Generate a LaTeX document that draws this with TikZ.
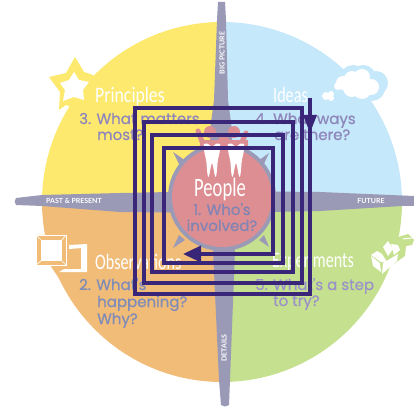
\documentclass[tikz,border=0pt]{standalone}
\usepackage{fontspec}
\usetikzlibrary{arrows.meta}
\newfontfamily\qfont{Poppins}[FakeBold=0.7]
\newfontfamily\hfont{Carlito}
\newfontfamily\lfont{Lato}
\definecolor{cyel}{HTML}{FDE96E}
\definecolor{cblu}{HTML}{C5E8FA}
\definecolor{cora}{HTML}{F0BC78}
\definecolor{cgrn}{HTML}{C5E08E}
\definecolor{cpnk}{HTML}{DD8E92}
\definecolor{cgry}{HTML}{9A9AB6}
\definecolor{cline}{HTML}{3A2678}
\definecolor{qyel}{HTML}{8F86BC}
\definecolor{qora}{HTML}{7F8CB8}
\definecolor{qpnk}{HTML}{8284B4}
\definecolor{qgrn}{HTML}{9A92C8}
\tikzset{
 quest/.style={anchor=base west,inner sep=0pt,font=\qfont\fontsize{15}{16}\selectfont},
 hand/.style={anchor=base west,inner sep=0pt,text=white,xscale=.95,yscale=1.3,transform shape,font=\hfont\fontsize{17}{20}\selectfont},
 tag/.style={inner sep=0pt,text=white,font=\lfont\bfseries\fontsize{7}{8}\selectfont},
 spiral/.style={draw=cline,line width=3.4pt,line join=miter},
 gray shape/.style={fill=cgry,draw=none},
 tooth/.style={fill=white,draw=none},
 person/.style={draw=cpnk,line width=5pt,line cap=round,line join=round},
}
\begin{document}
\begin{tikzpicture}[x=1pt,y=-1pt]
\useasboundingbox (0,0) rectangle (414,411);
% quadrants
\begin{scope}
\clip (222,202) circle[radius=180pt];
\fill[cyel] (42,22) rectangle (222,202);
\fill[cblu] (222,22) rectangle (402,202);
\fill[cgrn] (222,202) rectangle (402,382);
\fill[cora] (42,202) rectangle (222,382);
\end{scope}
% cross
\fill[gray shape] (218,2) -- (225,2) -- (226,20) -- (228,100) -- (232,130) -- (235,250) -- (230,380) -- (229,405) to[bend left=40] (221,405) -- (219,380) -- (213,250) -- (210,130) -- (214,100) -- (217,20) -- cycle;
\fill[gray shape] (414,196) -- (320,192) -- (222,191) -- (120,193) -- (42,195) -- (16,198) to[bend right=40] (16,205) -- (42,206) -- (120,212) -- (222,213) -- (320,211) -- (402,206) -- (414,206) -- cycle;
% star
\fill[cyel] (75,57) -- (84,72) -- (93,75) -- (100,90) -- (80,110) -- (66,105) -- (59,110) -- (60,92) -- (49,77) -- (66,73) -- cycle;
\fill[white] (74,72) -- (79,80) -- (89,82) -- (83,90) -- (84,100) -- (74,97) -- (63,101) -- (65,90) -- (60,83) -- (69,80) -- cycle;
% cloud
\foreach \a/\b/\rr in {343/82/12,353/78/13,363/78/13,372/88/13,353/88/14,362/90/13,376/83/12}{\fill[cblu] (\a,\b) circle[radius=\rr pt];}
\foreach \a/\b/\rr in {343/83/7,352/79/8,362/77/8,371/87/8,352/88/9,362/90/9,338/86/4}{\fill[white] (\a,\b) circle[radius=\rr pt];}
\foreach \a/\b/\rr in {326/96/4,331/94/3,331/98/3}{\fill[white] (\a,\b) circle[radius=\rr pt];}
% observations icon
\fill[cora] (36,235) -- (67,235) -- (90,243) -- (95,272) -- (60,280) -- (50,265) -- (36,265) -- cycle;
\draw[white,line width=.7pt] (36,235) rectangle (66,265);
\fill[white] (41,240) rectangle (62,261);
\draw[white,line width=.7pt] (36,235) -- (41,240) (66,235) -- (62,240) (36,265) -- (41,261) (66,265) -- (62,261);
\fill[white] (69,245) -- (87,244) -- (82,248) -- (69,249) -- cycle;
\fill[white] (87,244) -- (87,272) -- (81,269) -- (81,248) -- cycle;
\fill[white] (87,272) -- (59,272) -- (64,269) -- (81,269) -- cycle;
% experiments icon
\fill[cgrn] (385,232) -- (398,237) -- (408,234) -- (414,240) -- (412,245) -- (406,246) -- (405,256) -- (388,268) -- (372,280) -- (360,265) -- cycle;
\fill[white] (371,255) -- (377,251) -- (382,254) -- (387,262) -- (381,262) -- cycle;
\fill[white] (371,256) -- (380,263) -- (381,272) -- (373,266) -- cycle;
\fill[white] (383,263) -- (398,254) -- (397,261) -- (382,274) -- cycle;
\fill[white] (383,247) -- (388,241) -- (393,249) -- (388,256) -- cycle;
\fill[white] (391,244) -- (398,245) -- (400,250) -- (394,255) -- cycle;
\draw[white,line width=1pt] (403,239) -- (412,238);
% people arms (behind the hub)
\draw[person] (198,131) -- (203,144) -- (216,146);
\draw[person] (216,145) -- (224,137) -- (232,146);
\draw[person] (246,133) -- (241,144) -- (232,146);
\fill[cpnk] (210,132) circle[radius=6pt] (234,132) circle[radius=6pt];
% hub with spikes
\fill[gray shape] (222,197) circle[radius=54pt];
\fill[gray shape] (180,166) -- (173,152) -- (186,161) -- cycle;
\fill[gray shape] (258,161) -- (269,153) -- (263,166) -- cycle;
\fill[gray shape] (179,235) -- (173,248) -- (185,240) -- cycle;
\fill[gray shape] (259,240) -- (269,247) -- (264,235) -- cycle;
\fill[cpnk] (222,197) circle[radius=50pt];
% people body
\fill[cpnk] (200,140) rectangle (248,150);
% teeth
\foreach \tx in {204,228}{
 \begin{scope}[shift={(\tx,143)}]
 \fill[tooth] (0,1) .. controls (4,-1) and (6,3) .. (8,4) .. controls (10,3) and (12,-1) .. (16,1) .. controls (17,8) and (14,14) .. (13.5,20) .. controls (13,28) and (12.5,34) .. (11.5,34) .. controls (10,32) and (9.5,22) .. (8,20) .. controls (6.5,22) and (6,32) .. (4.5,34) .. controls (3.5,34) and (3,28) .. (2.5,20) .. controls (2,14) and (-1,8) .. (0,1) -- cycle;
 \draw[cpnk,line width=.7pt] (4,3) .. controls (5,8) and (11,8) .. (12,3);
 \end{scope}}
% tags
\node[tag,rotate=90] (t1) at (222,53) {BIG PICTURE};
\node[tag,rotate=90] (t2) at (224,348) {DETAILS};
\node[tag] (t3) at (74,201) {PAST \& PRESENT};
\node[tag] (t4) at (371,201) {FUTURE};
% headings
\node[hand,xscale=1.1] (h1) at (95,103) {Principles};
\node[hand] (h2) at (273,103) {Ideas};
\node[hand] (h3) at (95,269) {Observations};
\node[hand] (h4) at (272,267) {Experiments};
\node[hand,anchor=base,xscale=1.15,yscale=1.2] (h5) at (220,197) {People};
% questions
\node[quest,text=qyel] (q1) at (79,124) {3. What matters};
\node[quest,text=qyel] (q1b) at (97,140) {most?};
\node[quest,text=qyel] (q2) at (255,124) {4. What ways};
\node[quest,text=qyel] (q2b) at (274,140) {are there?};
\node[quest,text=qora] (q3) at (79,290) {2. What's};
\node[quest,text=qora] (q3b) at (97,307) {happening?};
\node[quest,text=qora] (q3c) at (97,324) {Why?};
\node[quest,text=qgrn] (q4) at (255,290) {5. What's a step};
\node[quest,text=qgrn] (q4b) at (273,306) {to try?};
\node[quest,text=qpnk,anchor=base] (q5) at (222,215) {1. Who's};
\node[quest,text=qpnk,anchor=base] (q5b) at (222,231) {involved?};
% spiral
\coordinate (s0) at (310,98);
\coordinate (s1) at (310,133);
\coordinate (e) at (183,254);
\draw[spiral,-{Triangle[length=18pt,width=13pt]}] (s0) -- (s1);
\draw[spiral,-{Triangle[length=18pt,width=16pt]}] (310,120) -- (310,294) -- (135,294) -- (135,108) -- (302,108) -- (302,283) -- (144,283) -- (144,122) -- (293,122) -- (293,272) -- (152,272) -- (152,135) -- (283,135) -- (283,263) -- (164,263) -- (164,148) -- (273,148) -- (273,254) -- (e);
\end{tikzpicture}
\end{document}
